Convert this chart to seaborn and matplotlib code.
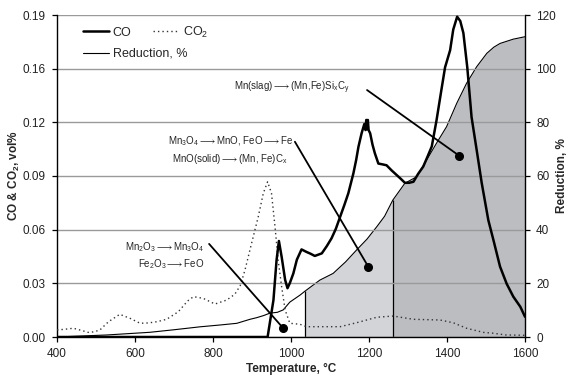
import numpy as np
import pandas as pd
import matplotlib
matplotlib.use("Agg")
import matplotlib.pyplot as plt
from matplotlib.lines import Line2D
import seaborn as sns

# ---------------- data ----------------
co_t = [400, 940, 955, 963, 969, 976, 985, 991, 997, 1006, 1015, 1027, 1040, 1050, 1061, 1079,
        1092, 1104, 1115, 1126, 1137, 1147, 1160, 1167, 1173, 1181, 1188, 1191, 1193, 1195, 1197,
        1199, 1203, 1209, 1215, 1224, 1235, 1245, 1258, 1271, 1282, 1292, 1303, 1314, 1326, 1339,
        1350, 1361, 1373, 1385, 1395, 1408, 1416, 1426, 1434, 1442, 1452, 1463, 1476, 1489, 1506,
        1519, 1536, 1553, 1570, 1588, 1600]
co_v = [0, 0, 0.0215, 0.0448, 0.0559, 0.0467, 0.0332, 0.0284, 0.0314, 0.037, 0.045, 0.051, 0.0495,
        0.0485, 0.0472, 0.0487, 0.053, 0.0575, 0.063, 0.070, 0.077, 0.0837, 0.0953, 0.103, 0.1108,
        0.1186, 0.124, 0.1205, 0.1264, 0.121, 0.1264, 0.1205, 0.1186, 0.112, 0.107, 0.101, 0.1005,
        0.100, 0.097, 0.0943, 0.092, 0.0898, 0.0898, 0.0904, 0.095, 0.0992, 0.105, 0.111, 0.126,
        0.143, 0.157, 0.167, 0.179, 0.1865, 0.184, 0.177, 0.157, 0.128, 0.109, 0.0897, 0.068,
        0.0565, 0.041, 0.031, 0.0235, 0.0176, 0.0118]

co2_t = [400, 420, 442, 460, 480, 495, 510, 532, 561, 587, 613, 635, 656, 681, 711, 735, 750, 775,
         805, 835, 856, 870, 882, 899, 916, 929, 940, 950, 959, 967, 976, 985, 997, 1023, 1040,
         1126, 1168, 1220, 1262, 1314, 1382, 1416, 1450, 1493, 1519, 1550, 1600]
co2_v = [0.0041, 0.0045, 0.0051, 0.004, 0.0027, 0.003, 0.0041, 0.0089, 0.0132, 0.0109, 0.0080,
         0.0082, 0.0089, 0.0103, 0.0147, 0.021, 0.0235, 0.0225, 0.0192, 0.0215, 0.0249, 0.030,
         0.039, 0.0546, 0.070, 0.0837, 0.0904, 0.0837, 0.0642, 0.0448, 0.0293, 0.0157, 0.008,
         0.0074, 0.006, 0.006, 0.0083, 0.0115, 0.0122, 0.0103, 0.0099, 0.0083, 0.0051, 0.0027,
         0.0022, 0.0012, 0.001]

red_t = [400, 450, 527, 638, 700, 767, 820, 861, 895, 912, 930, 946, 965, 980, 997, 1010, 1023,
         1036, 1074, 1108, 1140, 1168, 1195, 1220, 1240, 1261, 1292, 1322, 1348, 1373, 1399, 1425,
         1450, 1476, 1502, 1520, 1536, 1570, 1600]
red_v = [0, 0.3, 0.75, 1.75, 2.7, 3.8, 4.5, 5.1, 6.6, 7.2, 8.0, 8.9, 9.2, 10.1, 13.0, 14.3, 15.6,
         17.1, 21.2, 23.7, 28, 32.4, 36.5, 41.1, 45, 51, 57.3, 59.7, 66, 72.2, 78.4, 87.1, 94.5,
         100.7, 105.7, 108, 109.4, 111, 111.9]

stage_bounds = [1036, 1261, 1600]

x_ticks = [400, 600, 800, 1000, 1200, 1400, 1600]
left_ticks = [0, 0.03125, 0.0625, 0.09375, 0.125, 0.15625, 0.1875]
left_labels = ["0.00", "0.03", "0.06", "0.09", "0.12", "0.16", "0.19"]
right_ticks = [0, 20, 40, 60, 80, 100, 120]

ARROW = r"$\longrightarrow$"
ann_text = [["Mn$_2$O$_3$" + ARROW + "Mn$_3$O$_4$", "Fe$_2$O$_3$" + ARROW + "FeO"],
            ["Mn$_3$O$_4$" + ARROW + "MnO, FeO" + ARROW + "Fe", "MnO(solid)" + ARROW + "(Mn, Fe)C$_x$"],
            ["Mn(slag)" + ARROW + "(Mn,Fe)Si$_x$C$_y$"]]
ann_text_xy = [(778, 0.0524, 0.0425, "right"), (844, 0.1141, 0.1036, "center"),
               (1003, 0.145, None, "center")]
ann_line_start = [(790, 0.0542), (1010, 0.1137), (1195, 0.1438)]
ann_dot = [(979, 0.0054), (1198, 0.041), (1431, 0.1056)]

# ---------------- style ----------------
sns.set_theme(style="white")
plt.rcParams["font.family"] = ["Liberation Sans", "DejaVu Sans"]
plt.rcParams["mathtext.fontset"] = "custom"
plt.rcParams["mathtext.rm"] = "Liberation Sans"
plt.rcParams["mathtext.it"] = "Liberation Sans:italic"
plt.rcParams["mathtext.bf"] = "Liberation Sans:bold"
plt.rcParams["mathtext.default"] = "regular"
plt.rcParams["mathtext.fallback"] = "stixsans"

fig = plt.figure(figsize=(5.68, 3.79), dpi=100)
ax1 = fig.add_axes([57 / 568, 42 / 379, 468 / 568, 322 / 379])
ax2 = ax1.twinx()
ax1.set_zorder(2)
ax1.patch.set_visible(False)

df_co = pd.DataFrame({"T": co_t, "v": co_v})
df_co2 = pd.DataFrame({"T": co2_t, "v": co2_v})
df_red = pd.DataFrame({"T": red_t, "R": red_v})

# reduction fill (right axis)
T = np.array(red_t)
R = np.array(red_v)
m1 = (T >= stage_bounds[0]) & (T <= stage_bounds[1])
m2 = (T >= stage_bounds[1]) & (T <= stage_bounds[2])
ax2.fill_between(T[m1], 0, R[m1], color="#d3d4d8", lw=0, zorder=1)
ax2.fill_between(T[m2], 0, R[m2], color="#bbbdc1", lw=0, zorder=1)
for b in stage_bounds[:2]:
    i = red_t.index(b)
    ax2.vlines(red_t[i], 0, red_v[i], color="black", lw=0.9, zorder=2)
sns.lineplot(data=df_red, x="T", y="R", ax=ax2, color="black", lw=0.8,
             estimator=None, sort=False, legend=False, zorder=3)

sns.lineplot(data=df_co2, x="T", y="v", ax=ax1, color="#333333", lw=1.0,
             estimator=None, sort=False, legend=False, zorder=3)
co2_line = ax1.lines[-1]
co2_line.set_linestyle((0, (1, 2.2)))
sns.lineplot(data=df_co, x="T", y="v", ax=ax1, color="black", lw=1.8,
             estimator=None, sort=False, legend=False, zorder=4)

# annotations
for (tx, ty1, ty2, ha), texts, (x0, y0), (x1, y1) in zip(ann_text_xy, ann_text, ann_line_start, ann_dot):
    ax1.text(tx, ty1, texts[0], ha=ha, va="center", fontsize=7.0, zorder=6)
    if ty2 is not None:
        ax1.text(tx, ty2, texts[1], ha=ha, va="center", fontsize=7.0, zorder=6)
    ax1.plot([x0, x1], [y0, y1], color="black", lw=1.3, zorder=5)
    ax1.plot([x1], [y1], "o", color="black", ms=5.5, zorder=5)

# axes
ax1.set_xlim(400, 1600)
ax1.set_ylim(0, 0.1875)
ax2.set_ylim(0, 120)
ax1.set_xticks(x_ticks)
ax1.set_xticklabels([str(v) for v in x_ticks])
ax1.set_yticks(left_ticks)
ax1.set_yticklabels(left_labels)
ax2.set_yticks(right_ticks)
ax2.set_yticklabels([str(v) for v in right_ticks])

ax1.yaxis.grid(True, color="#9a9a9a", lw=1.0)
ax1.xaxis.grid(False)
ax2.grid(False)

for sp in ["top", "right"]:
    ax1.spines[sp].set_visible(False)
for sp in ["top", "left", "bottom"]:
    ax2.spines[sp].set_visible(False)
for sp in ["left", "bottom"]:
    ax1.spines[sp].set_color("black")
    ax1.spines[sp].set_linewidth(1.0)
ax2.spines["right"].set_color("black")
ax2.spines["right"].set_linewidth(1.0)

ax1.tick_params(axis="both", which="major", direction="out", length=3.5, width=0.9,
                color="black", labelsize=8.5, pad=4.5, labelcolor="#222222")
ax1.tick_params(axis="x", bottom=True, pad=4.5)
ax1.tick_params(axis="y", left=True)
ax2.tick_params(axis="y", direction="out", length=3.5, width=0.9, color="black",
                labelsize=8.5, pad=4.5, right=True, labelcolor="#222222")

ax1.set_xlabel("Temperature, \u00b0C", fontsize=8.5, fontweight="bold", labelpad=2)
ax1.set_ylabel("CO & CO$_2$, vol%", fontsize=8.5, fontweight="bold")
ax1.yaxis.set_label_coords(-0.075, 0.5)
ax2.set_ylabel("Reduction, %", fontsize=8.5, fontweight="bold")
ax2.yaxis.set_label_coords(1.066, 0.5)

# legend
h_co = Line2D([], [], color="black", lw=1.8)
h_co2 = Line2D([], [], color="#333333", lw=1.0, linestyle=(0, (1, 2.2)))
h_red = Line2D([], [], color="black", lw=0.8)
leg1 = ax1.legend([h_co, h_co2], ["CO", "CO$_2$"], ncol=2, frameon=False, fontsize=9,
                  loc="center left", bbox_to_anchor=(0.055, 0.947), borderpad=0,
                  borderaxespad=0, handlelength=2.1, handletextpad=0.3, columnspacing=1.7)
ax1.add_artist(leg1)
ax1.legend([h_red], ["Reduction, %"], frameon=False, fontsize=9,
           loc="center left", bbox_to_anchor=(0.055, 0.879), borderpad=0,
           borderaxespad=0, handlelength=2.1, handletextpad=0.3)

fig.savefig("out.png", dpi=100)
